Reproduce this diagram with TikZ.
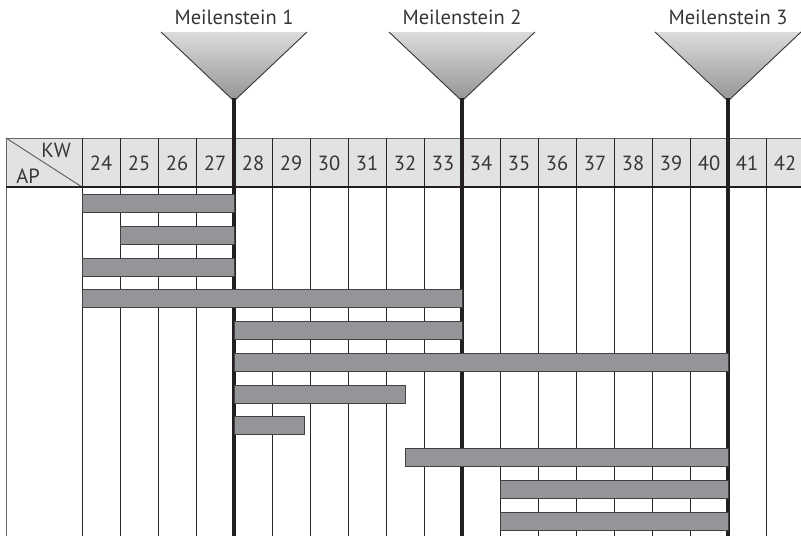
\documentclass[tikz,border=0pt]{standalone}
\usepackage{fontspec}
\setmainfont{PT Sans}
\begin{document}
\begin{tikzpicture}[x=1pt,y=-1pt,
  grid/.style={line width=1pt,draw=black!85},
  hdrline/.style={line width=1pt,draw=black!60},
  mileline/.style={line width=4pt,draw=ink},
  bar/.style={fill=barfill,draw=ink!85,line width=1pt},
  wk/.style={font=\fontsize{20.5}{22}\selectfont,text=ink!90,inner sep=0pt},
  mlabel/.style={font=\fontsize{20.5}{22}\selectfont,text=ink!90,inner sep=0pt},
  tri/.style={top color=black!14,bottom color=black!42},
  triedge/.style={line width=0.9pt,draw=ink!90}]
\definecolor{ink}{HTML}{231F20}
\definecolor{barfill}{HTML}{939598}
\definecolor{hdrfill}{HTML}{E1E2E4}
\useasboundingbox (0,0) rectangle (801,536);

% header band
\fill[hdrfill] (6,138) rectangle (801,187);
\draw[hdrline] (6,138) -- (801,138);
\draw[hdrline] (6,138) -- (6,536);
\draw[hdrline] (6,138) -- (82,187);
\node[wk,anchor=base] (kw) at (56,157) {KW};
\node[wk,anchor=base] (ap) at (28,183) {AP};

% week columns
\foreach \i in {0,...,18}{
  \pgfmathtruncatemacro{\wknum}{24+\i}
  \draw[grid] (82+38*\i,138) -- (82+38*\i,536);
  \node[wk,anchor=base] (w\wknum) at (101+38*\i,170.5) {\wknum};
}
\draw[line width=1.6pt,draw=ink] (6,187) -- (801,187);

% milestones
\foreach \mx/\n in {234/1, 462/2, 728/3}{
  \shade[tri] (\mx-73,32) -- (\mx+73,32) -- (\mx,101) -- cycle;
  \draw[triedge] (\mx-73,32) -- (\mx,101) -- (\mx+73,32);
  \draw[mileline] (\mx,98) -- (\mx,536);
  \node[mlabel,anchor=base] (m\n) at (\mx,24) {Meilenstein \n};
}

% work package bars (row centres 31.75 apart), drawn over the milestone lines
\foreach \xa/\xb/\r in {82/234/0, 120/234/1, 82/234/2, 82/462/3, 234/462/4,
  234/728/5, 234/405/6, 234/304/7, 405/728/8, 500/728/9, 500/728/10}{
  \draw[bar] (\xa,203.5+31.75*\r-9) rectangle (\xb,203.5+31.75*\r+9);
}
\end{tikzpicture}
\end{document}
